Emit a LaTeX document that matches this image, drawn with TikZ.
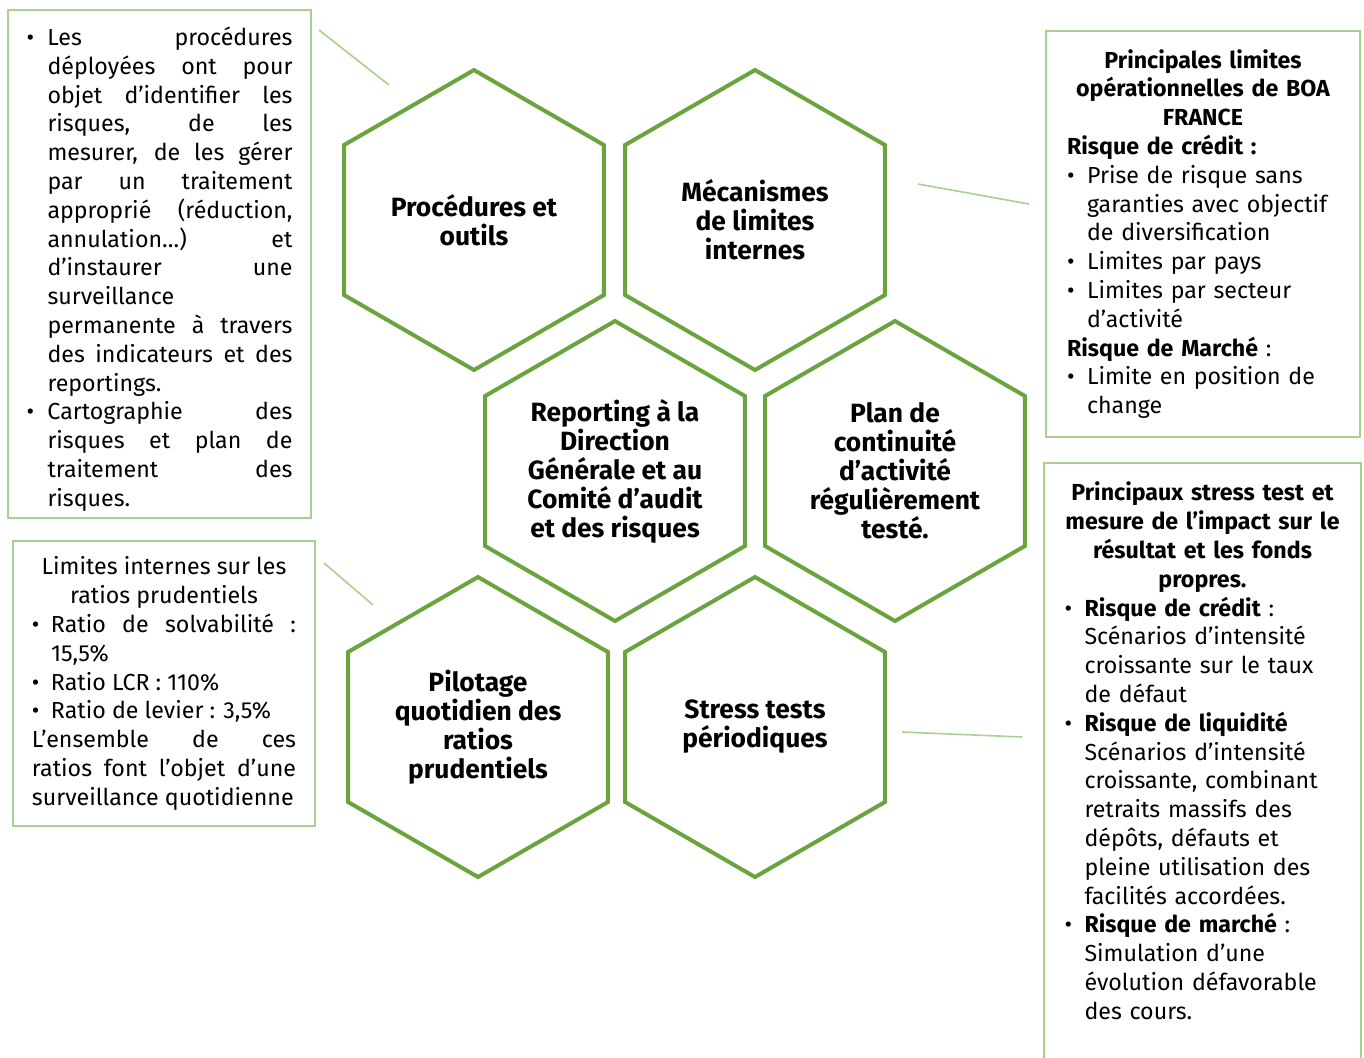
\documentclass[tikz,border=0pt]{standalone}
\usepackage{fontspec}
\setmainfont{Fira Sans}
\usetikzlibrary{shapes.geometric}
\definecolor{hexgreen}{RGB}{106,164,62}
\definecolor{boxgreen}{RGB}{169,209,142}
\newcommand\puce[1][10pt]{\par\hangindent=#1\hangafter=1\noindent\makebox[#1][l]{\textbullet}}
\newcommand\boxfont{\fontsize{11.6pt}{14.4pt}\selectfont\parindent=0pt\hyphenpenalty=10000\tolerance=10000\hbadness=10000}
\newcommand\hexfont{\fontsize{13.2pt}{14.5pt}\selectfont\bfseries}
\tikzset{
  hexa/.style={regular polygon, regular polygon sides=6, regular polygon rotate=30,
    minimum size=150pt, inner sep=0pt, draw=hexgreen, line width=2pt,
    align=center, font=\hexfont},
  boxline/.style={draw=boxgreen, line width=1pt},
  txtbox/.style={boxline, inner sep=0pt, font=\boxfont},
  link/.style={draw=boxgreen, line width=0.8pt}
}

\begin{document}
\begin{tikzpicture}[x=0.5pt,y=-0.5pt]
  \useasboundingbox (0,0) rectangle (1364,1057);
  \clip (0,0) rectangle (1364,1057);

  %% hexagons
  \node[hexa] (hexproc)   at (474,220) {Procédures et\\outils};
  \node[hexa] (hexmeca)   at (755,220) {Mécanismes\\de limites\\internes};
  \node[hexa] (hexrep)    at (615,471) {Reporting à la\\Direction\\Générale et au\\Comité d’audit\\et des risques};
  \node[hexa] (hexplan)   at (895,471) {Plan de\\continuité\\d’activité\\régulièrement\\testé.};
  \node[hexa] (hexpilot)  at (478,727) {Pilotage\\quotidien des\\ratios\\prudentiels};
  \node[hexa] (hexstress) at (755,727) {Stress tests\\périodiques};

  %% text boxes
  \node[txtbox, minimum width=151.5pt, minimum height=254pt, text width=133pt, align=justify] (boxproc) at (159.5,264) {%
    \puce[10.5pt]Les procédures\linebreak déployées ont pour\linebreak objet d’identifier les\linebreak
    risques, de les\linebreak mesurer, de les gérer\linebreak par un traitement\linebreak
    approprié (réduction,\linebreak annulation…) et\linebreak d’instaurer une\linebreak
    surveillance\newline permanente à travers\linebreak des indicateurs et des\linebreak reportings.
    \puce[10.5pt]Cartographie des\linebreak risques et plan de\linebreak traitement des\linebreak risques.\par};

  \node[txtbox, minimum width=157pt, minimum height=203pt, text width=136pt, align=left] (boxlim) at (1203,234) {%
    {\centering\bfseries Principales limites\\opérationnelles de BOA\\FRANCE\par}
    \textbf{Risque de crédit :}
    \puce Prise de risque sans\newline garanties avec objectif\newline de diversification
    \puce Limites par pays
    \puce Limites par secteur\newline d’activité
    \par\textbf{Risque de Marché} :
    \puce Limite en position de\newline change\par};

  \node[txtbox, minimum width=151pt, minimum height=142.5pt, text width=132pt, align=justify] (boxratio) at (164,683.5) {%
    {\centering Limites internes sur les\\ratios prudentiels\par}
    \puce[9.5pt]Ratio de solvabilité :\linebreak 15,5\%
    \puce[9.5pt]Ratio LCR : 110\%
    \puce[9.5pt]Ratio de levier : 3,5\%
    \par L’ensemble de ces\linebreak ratios font l’objet d’une\linebreak surveillance quotidienne\par};

  \node[txtbox, draw=none, anchor=north, minimum width=157.5pt, inner ysep=9pt, text width=138pt, align=left] (boxstress) at (1202.5,463) {%
    {\centering\bfseries Principaux stress test et\\mesure de l’impact sur le\\résultat et les fonds\\propres.\par}
    \puce\textbf{Risque de crédit} :\newline Scénarios d’intensité\newline croissante sur le taux\newline de défaut
    \puce\textbf{Risque de liquidité}\newline Scénarios d’intensité\newline croissante, combinant\newline
      retraits massifs des\newline dépôts, défauts et\newline pleine utilisation des\newline facilités accordées.
    \puce\textbf{Risque de marché} :\newline Simulation d’une\newline évolution défavorable\newline des cours.\par};
  \draw[boxline] (boxstress.north west) rectangle ([yshift=-40pt]boxstress.south east);

  %% connectors
  \coordinate (procA)   at (319,30);
  \coordinate (procB)   at (389,85);
  \coordinate (mecaA)   at (918,184);
  \coordinate (mecaB)   at (1029,204);
  \coordinate (ratioA)  at (324,563);
  \coordinate (ratioB)  at (373,605);
  \coordinate (stressA) at (902,732);
  \coordinate (stressB) at (1022,737);
  \draw[link] (procA) -- (procB);
  \draw[link] (mecaA) -- (mecaB);
  \draw[link] (ratioA) -- (ratioB);
  \draw[link] (stressA) -- (stressB);
\end{tikzpicture}
\end{document}
